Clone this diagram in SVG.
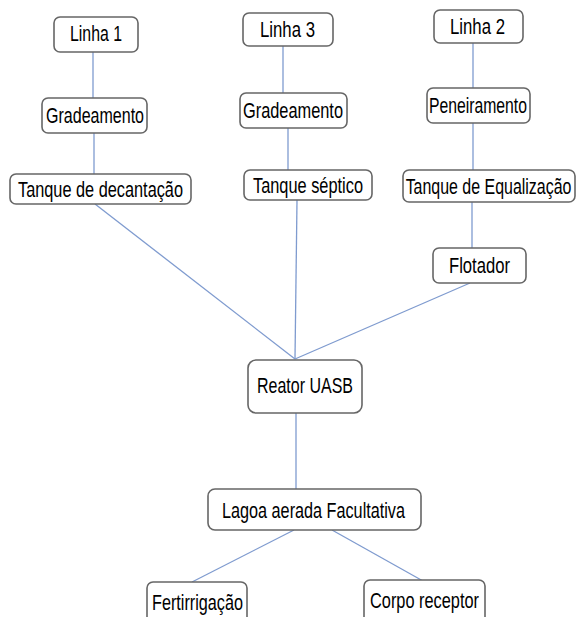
<svg xmlns="http://www.w3.org/2000/svg" width="577" height="617" viewBox="0 0 577 617">
<style>
.box{fill:#fff;stroke:#666;stroke-width:1.6}
.lbl{font-family:"Liberation Sans",Arial,sans-serif;font-size:21.5px;fill:#000;text-anchor:middle}
.con line{stroke:#7f9bcf;stroke-width:1.3}
</style>
<rect width="577" height="617" fill="#fff"/>
<g class="con" id="connectors">
<line x1="93" y1="52" x2="93" y2="98"/>
<line x1="94" y1="133" x2="94" y2="174"/>
<line x1="283" y1="46" x2="283" y2="93"/>
<line x1="288" y1="128" x2="288" y2="170"/>
<line x1="473" y1="43" x2="473" y2="88"/>
<line x1="473" y1="123" x2="473" y2="170"/>
<line x1="472" y1="202" x2="472" y2="248"/>
<line x1="95" y1="204" x2="295" y2="359"/>
<line x1="297" y1="200" x2="295" y2="359"/>
<line x1="470" y1="283" x2="295" y2="359"/>
<line x1="296" y1="413" x2="296" y2="489"/>
<line x1="294" y1="530" x2="192" y2="582"/>
<line x1="332" y1="530" x2="423" y2="581"/>
</g>
<g id="linha1"><rect class="box" x="54" y="17" width="84" height="35" rx="6"/><text class="lbl" x="96" y="41" textLength="52" lengthAdjust="spacingAndGlyphs">Linha 1</text></g>
<g id="grad1"><rect class="box" x="42" y="98" width="105" height="35" rx="6"/><text class="lbl" x="95" y="123" textLength="98" lengthAdjust="spacingAndGlyphs">Gradeamento</text></g>
<g id="decantacao"><rect class="box" x="10" y="174" width="181" height="30" rx="6"/><text class="lbl" x="100.5" y="197" textLength="165" lengthAdjust="spacingAndGlyphs">Tanque de decantação</text></g>
<g id="linha3"><rect class="box" x="243" y="13" width="90" height="33" rx="6"/><text class="lbl" x="287.5" y="37" textLength="55" lengthAdjust="spacingAndGlyphs">Linha 3</text></g>
<g id="grad3"><rect class="box" x="240" y="93" width="107" height="35" rx="6"/><text class="lbl" x="293" y="118" textLength="100" lengthAdjust="spacingAndGlyphs">Gradeamento</text></g>
<g id="septico"><rect class="box" x="244" y="170" width="128" height="30" rx="6"/><text class="lbl" x="308" y="193" textLength="110" lengthAdjust="spacingAndGlyphs">Tanque séptico</text></g>
<g id="linha2"><rect class="box" x="434" y="10" width="89" height="33" rx="6"/><text class="lbl" x="477.5" y="34" textLength="55" lengthAdjust="spacingAndGlyphs">Linha 2</text></g>
<g id="peneiramento"><rect class="box" x="427" y="88" width="103" height="35" rx="6"/><text class="lbl" x="478" y="113" textLength="98" lengthAdjust="spacingAndGlyphs">Peneiramento</text></g>
<g id="equalizacao"><rect class="box" x="403" y="170" width="172" height="32" rx="6"/><g transform="translate(488.5,194) scale(0.73,1)"><text class="lbl" x="0" y="0" textLength="227" lengthAdjust="spacingAndGlyphs">Tanque de Equalização</text></g></g>
<g id="flotador"><rect class="box" x="433" y="248" width="93" height="35" rx="6"/><text class="lbl" x="479.5" y="273" textLength="61" lengthAdjust="spacingAndGlyphs">Flotador</text></g>
<g id="reator"><rect class="box" x="248" y="360" width="114" height="53" rx="8"/><text class="lbl" x="305" y="393" textLength="96" lengthAdjust="spacingAndGlyphs">Reator UASB</text></g>
<g id="lagoa"><rect class="box" x="208" y="489" width="213" height="41" rx="7"/><text class="lbl" x="313.5" y="517.5" textLength="183" lengthAdjust="spacingAndGlyphs">Lagoa aerada Facultativa</text></g>
<g id="fertirrigacao"><rect class="box" x="147" y="582" width="100" height="45" rx="6"/><text class="lbl" x="197.5" y="610" textLength="91" lengthAdjust="spacingAndGlyphs">Fertirrigação</text></g>
<g id="corpo"><rect class="box" x="364" y="580" width="121" height="45" rx="6"/><text class="lbl" x="424.5" y="608" textLength="109" lengthAdjust="spacingAndGlyphs">Corpo receptor</text></g>
</svg>
